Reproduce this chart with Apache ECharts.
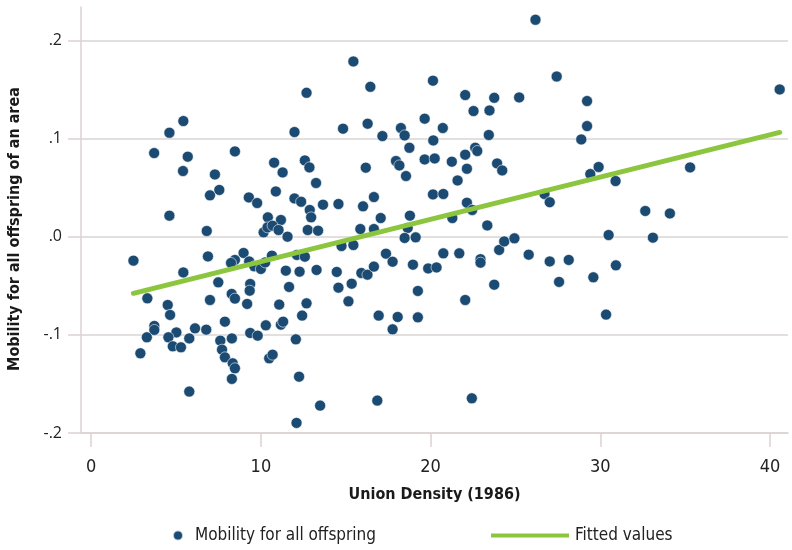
<!DOCTYPE html>
<html>
<head>
<meta charset="utf-8">
<script src="https://cdn.jsdelivr.net/npm/echarts@6/dist/echarts.min.js"></script>
<style>
html,body{margin:0;padding:0;background:#fff;}
#chart{width:792px;height:550px;}
</style>
</head>
<body>
<div id="chart"></div>
<script>
// Union density (1986), x values
const unionDensity = [
12.69,5.43,4.61,11.98,3.71,5.69,8.47,5.41,7.29,10.78,11.28,12.59,12.86,13.25,7.55,7.0,10.88,9.29,9.78,11.98,
12.37,13.66,12.88,12.96,4.61,10.41,11.18,6.81,10.16,10.39,10.69,11.04,11.57,12.76,13.37,2.49,6.88,8.98,8.47,8.24,
9.31,9.61,10.0,10.25,10.65,12.12,12.59,5.43,7.49,11.47,12.28,13.28,9.37,9.34,11.66,3.31,8.28,8.47,7.0,9.19,
11.08,12.69,4.51,4.65,12.43,7.88,10.29,11.18,11.31,3.72,3.72,6.12,6.78,5.02,3.28,4.55,5.78,4.81,5.29,7.61,
8.29,9.37,9.81,12.06,2.90,7.71,7.88,8.34,8.47,10.49,10.69,8.29,12.25,5.78,13.49,12.10,
26.18,15.45,20.14,16.45,22.04,23.75,25.22,22.53,23.47,19.65,14.84,16.29,18.25,18.47,20.72,17.16,20.16,23.43,18.75,22.63,
22.75,22.04,16.18,17.96,18.16,19.65,20.24,21.25,22.14,23.92,24.22,18.55,21.59,14.57,16.02,16.66,17.06,18.78,20.14,20.75,
22.14,22.45,21.28,15.86,16.66,18.65,23.34,18.47,19.12,14.75,15.45,17.37,17.76,20.75,21.69,22.94,22.94,24.04,24.34,24.94,
25.78,14.47,15.92,16.28,16.66,18.96,19.86,20.35,14.57,15.35,19.25,23.75,22.04,15.16,16.94,18.06,19.25,17.76,16.86,22.43,
27.43,29.22,40.57,29.22,28.88,29.90,29.41,35.29,30.90,26.71,27.02,32.65,34.10,30.49,33.10,27.02,28.14,27.57,29.59,30.92,30.34
];
// Mobility for all offspring, y values
const mobility = [
0.1466,0.1178,0.1059,0.1066,0.0852,0.0815,0.0869,0.0669,0.0634,0.0754,0.0655,0.0777,0.0706,0.0547,0.0476,0.0421,0.0461,0.0400,0.0343,0.0390,
0.0356,0.0326,0.0272,0.0197,0.0214,0.0197,0.0170,0.0058,0.0044,0.0095,0.0112,0.0068,0.0000,0.0068,0.0061,-0.0244,-0.0201,-0.0166,-0.0237,-0.0268,
-0.0252,-0.0302,-0.0329,-0.0262,-0.0193,-0.0186,-0.0204,-0.0364,-0.0465,-0.0346,-0.0356,-0.0339,-0.0482,-0.0550,-0.0512,-0.0628,-0.0583,-0.0631,-0.0645,-0.0685,
-0.0692,-0.0679,-0.0696,-0.0797,-0.0804,-0.0866,-0.0903,-0.0896,-0.0866,-0.0909,-0.0950,-0.0934,-0.0947,-0.0975,-0.1025,-0.1025,-0.1036,-0.1117,-0.1127,-0.1059,
-0.1036,-0.0981,-0.1008,-0.1046,-0.1188,-0.1151,-0.1229,-0.1290,-0.1341,-0.1239,-0.1202,-0.1449,-0.1426,-0.1578,-0.1721,-0.1897,
0.2210,0.1785,0.1589,0.1527,0.1443,0.1415,0.1419,0.1280,0.1286,0.1202,0.1100,0.1151,0.1107,0.1032,0.1107,0.1025,0.0981,0.1036,0.0906,0.0906,
0.0873,0.0835,0.0703,0.0771,0.0726,0.0787,0.0797,0.0764,0.0692,0.0746,0.0675,0.0618,0.0573,0.0333,0.0309,0.0404,0.0190,0.0214,0.0431,0.0435,
0.0346,0.0272,0.0190,0.0078,0.0078,0.0089,0.0115,-0.0013,-0.0007,-0.0095,-0.0085,-0.0173,-0.0255,-0.0170,-0.0170,-0.0229,-0.0265,-0.0135,-0.0048,-0.0017,
-0.0183,-0.0359,-0.0370,-0.0387,-0.0305,-0.0285,-0.0323,-0.0313,-0.0519,-0.0479,-0.0553,-0.0489,-0.0645,-0.0659,-0.0804,-0.0818,-0.0822,-0.0944,-0.1670,-0.1647,
0.1632,0.1382,0.1500,0.1127,0.0991,0.0710,0.0638,0.0706,0.0567,0.0435,0.0351,0.0262,0.0237,0.0017,-0.0010,-0.0252,-0.0237,-0.0461,-0.0414,-0.0292,-0.0794
];
// Fitted values line (endpoints)
const fitX = [2.49, 40.57];
const fitY = [-0.0577, 0.1062];
// Tick values
const xTicks = [0, 10, 20, 30, 40];
const yTicks = [-0.2, -0.1, 0, 0.1, 0.2];

const scatterData = unionDensity.map((x, i) => [x, mobility[i]]);
const fitData = fitX.map((x, i) => [x, fitY[i]]);

const narrow = "'DejaVu Sans Condensed', 'Roboto', sans-serif";
const axisCol = '#ddd2d2';
const gridCol = '#dad5d5';

const chart = echarts.init(document.getElementById('chart'), null, {renderer: 'canvas'});
chart.setOption({
  animation: false,
  backgroundColor: '#fff',
  grid: {left: 81, right: 4, top: 7, bottom: 117, containLabel: false, outerBoundsMode: 'none'},
  xAxis: {
    type: 'value', min: -0.6, max: 41.06,
    name: 'Union Density (1986)', nameLocation: 'middle', nameGap: 54,
    nameTextStyle: {fontFamily: narrow, fontWeight: 'bold', fontSize: 16, color: '#1a1a1a'},
    axisLine: {show: true, onZero: false, lineStyle: {color: axisCol, width: 1.5}},
    axisTick: {show: true, length: 14, customValues: xTicks, lineStyle: {color: axisCol, width: 1.5}},
    axisLabel: {customValues: xTicks, margin: 25, fontFamily: narrow, fontSize: 18, color: '#222'},
    splitLine: {show: false}
  },
  yAxis: {
    type: 'value', min: -0.2, max: 0.234,
    name: 'Mobility for all offspring of an area', nameLocation: 'middle', nameGap: 58,
    nameTextStyle: {fontFamily: narrow, fontWeight: 'bold', fontSize: 16, color: '#1a1a1a', padding: [0, 18, 0, 0]},
    axisLine: {show: true, onZero: false, lineStyle: {color: axisCol, width: 1.5}},
    axisTick: {show: true, length: 13, customValues: yTicks, lineStyle: {color: axisCol, width: 1.5}},
    axisLabel: {customValues: yTicks, margin: 19, fontFamily: "'Open Sans', 'Noto Sans', sans-serif", fontSize: 16, color: '#222',
      formatter: v => v.toFixed(1).replace('0.', '.')},
    splitLine: {show: true, lineStyle: {color: gridCol, width: 1.5}}
  },
  legend: [
    {data: ['Mobility for all offspring'], left: 172, top: 527, padding: 0, icon: 'circle', itemWidth: 10, itemHeight: 10,
     textStyle: {fontFamily: narrow, fontSize: 17, color: '#222', padding: [0, 0, 0, 7]}},
    {data: ['Fitted values'], left: 491, top: 527, padding: 0, icon: 'rect', itemWidth: 78, itemHeight: 4,
     textStyle: {fontFamily: narrow, fontSize: 17, color: '#222', padding: [0, 0, 0, 1]}}
  ],
  series: [
    {name: 'Mobility for all offspring', type: 'scatter', data: scatterData, symbolSize: 11,
     itemStyle: {color: '#1b4a72', borderColor: 'rgba(255,255,255,0.7)', borderWidth: 0.8, opacity: 1}},
    {name: 'Fitted values', type: 'line', data: fitData, showSymbol: false, symbol: 'none',
     lineStyle: {color: '#8cc63f', width: 5, cap: 'round'}, itemStyle: {color: '#8cc63f'}}
  ]
});
</script>
</body>
</html>
